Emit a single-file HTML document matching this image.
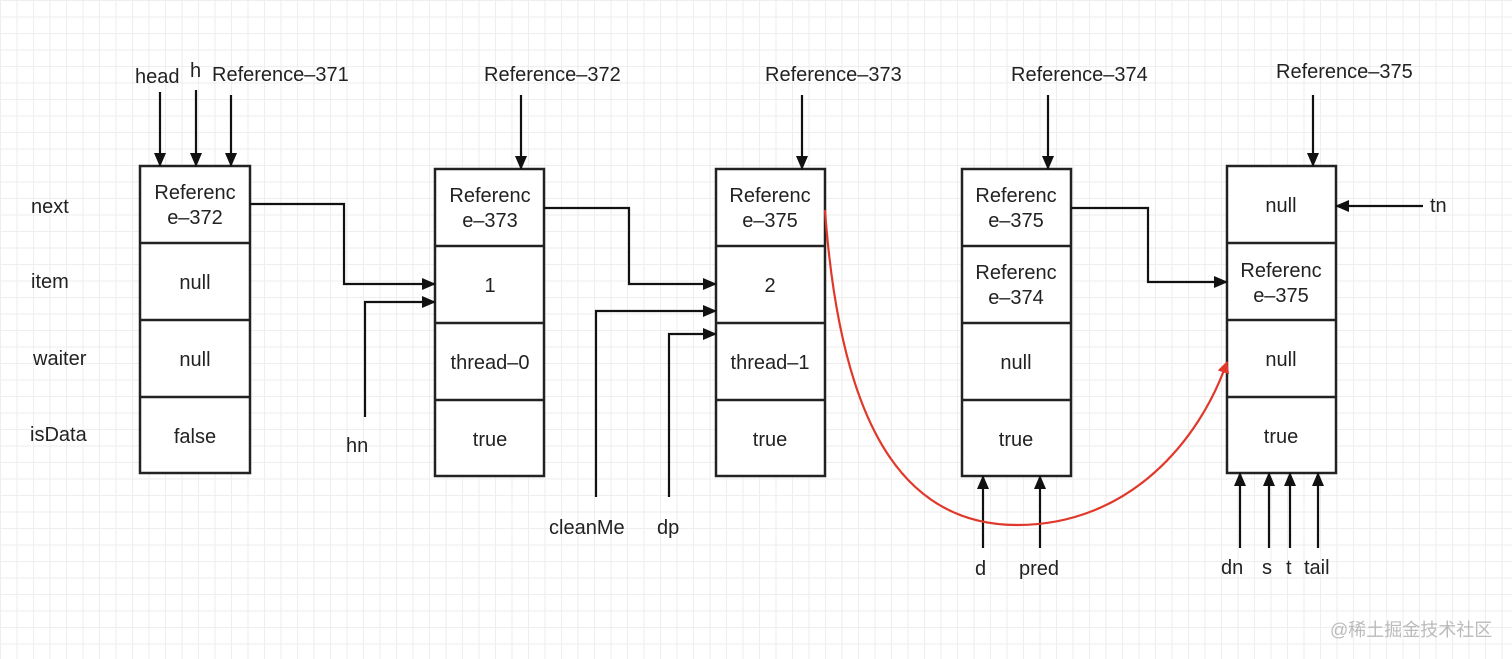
<!DOCTYPE html>
<html><head><style>
html,body{margin:0;padding:0;background:#fff;}
body{width:1512px;height:659px;overflow:hidden;
background-image:linear-gradient(#eeeeee 1px,transparent 1px),linear-gradient(90deg,#eeeeee 1px,transparent 1px);
background-size:16.5px 16.5px;}
text{font-family:"Liberation Sans",sans-serif;font-size:20px;fill:#222;}
</style></head><body>
<svg width="1512" height="659" xmlns="http://www.w3.org/2000/svg" style="position:absolute;left:0;top:0">
<defs>
<marker id="a" markerWidth="14" markerHeight="12" refX="13" refY="6" orient="auto" markerUnits="userSpaceOnUse"><path d="M0,0 L14,6 L0,12 Z" fill="#111"/></marker>
<marker id="r" markerWidth="12" markerHeight="12" refX="11" refY="6" orient="auto" markerUnits="userSpaceOnUse"><path d="M0,0 L12,6 L0,12 Z" fill="#e0392b"/></marker>
</defs>
<g fill="#fff" stroke="#222" stroke-width="2.5">
<rect x="140" y="166" width="110" height="307"/><path d="M140 243H250M140 320H250M140 397H250"/>
<rect x="435" y="169" width="109" height="307"/><path d="M435 246H544M435 323H544M435 400H544"/>
<rect x="716" y="169" width="109" height="307"/><path d="M716 246H825M716 323H825M716 400H825"/>
<rect x="962" y="169" width="109" height="307"/><path d="M962 246H1071M962 323H1071M962 400H1071"/>
<rect x="1227" y="166" width="109" height="307"/><path d="M1227 243H1336M1227 320H1336M1227 397H1336"/>
</g>
<g text-anchor="middle">
<text x="195" y="199">Referenc</text><text x="195" y="224">e–372</text>
<text x="195" y="289">null</text><text x="195" y="366">null</text><text x="195" y="443">false</text>
<text x="490" y="202">Referenc</text><text x="490" y="227">e–373</text>
<text x="490" y="292">1</text><text x="490" y="369">thread–0</text><text x="490" y="446">true</text>
<text x="770" y="202">Referenc</text><text x="770" y="227">e–375</text>
<text x="770" y="292">2</text><text x="770" y="369">thread–1</text><text x="770" y="446">true</text>
<text x="1016" y="202">Referenc</text><text x="1016" y="227">e–375</text>
<text x="1016" y="279">Referenc</text><text x="1016" y="304">e–374</text>
<text x="1016" y="369">null</text><text x="1016" y="446">true</text>
<text x="1281" y="212">null</text>
<text x="1281" y="277">Referenc</text><text x="1281" y="302">e–375</text>
<text x="1281" y="366">null</text><text x="1281" y="443">true</text>
</g>
<g>
<text x="31" y="213">next</text><text x="31" y="288">item</text><text x="33" y="365">waiter</text><text x="30" y="441">isData</text>
<text x="135" y="83">head</text><text x="190" y="77">h</text><text x="212" y="81">Reference–371</text>
<text x="484" y="81">Reference–372</text><text x="765" y="81">Reference–373</text>
<text x="1011" y="81">Reference–374</text><text x="1276" y="78">Reference–375</text>
<text x="346" y="452">hn</text><text x="549" y="534">cleanMe</text><text x="657" y="534">dp</text>
<text x="975" y="575">d</text><text x="1019" y="575">pred</text>
<text x="1221" y="574">dn</text><text x="1262" y="574">s</text><text x="1286" y="574">t</text><text x="1304" y="574">tail</text>
<text x="1430" y="212">tn</text>
<text x="1330" y="636" style="font-family:'Liberation Sans','Noto Sans CJK SC',sans-serif;font-size:18px;fill:#bbb">@稀土掘金技术社区</text>
</g>
<g stroke="#111" stroke-width="2.2" fill="none" marker-end="url(#a)">
<path d="M160 92V166"/><path d="M196 90V166"/><path d="M231 95V166"/>
<path d="M521 95V169"/><path d="M802 95V169"/><path d="M1048 95V169"/><path d="M1313 95V166"/>
<path d="M250 204H344V284H435"/><path d="M365 417V302H435"/>
<path d="M544 208H629V284H716"/><path d="M596 497V311H716"/><path d="M669 497V334H716"/>
<path d="M1071 208H1148V282H1227"/><path d="M1423 206H1336"/>
<path d="M983 548V476"/><path d="M1040 548V476"/>
<path d="M1240 548V473"/><path d="M1269 548V473"/><path d="M1290 548V473"/><path d="M1318 548V473"/>
</g>
<path d="M825 210 C840 420 900 525 1017 525 C1130 525 1200 440 1227 362" stroke="#e0392b" stroke-width="2.2" fill="none" marker-end="url(#r)"/>
</svg>
</body></html>
